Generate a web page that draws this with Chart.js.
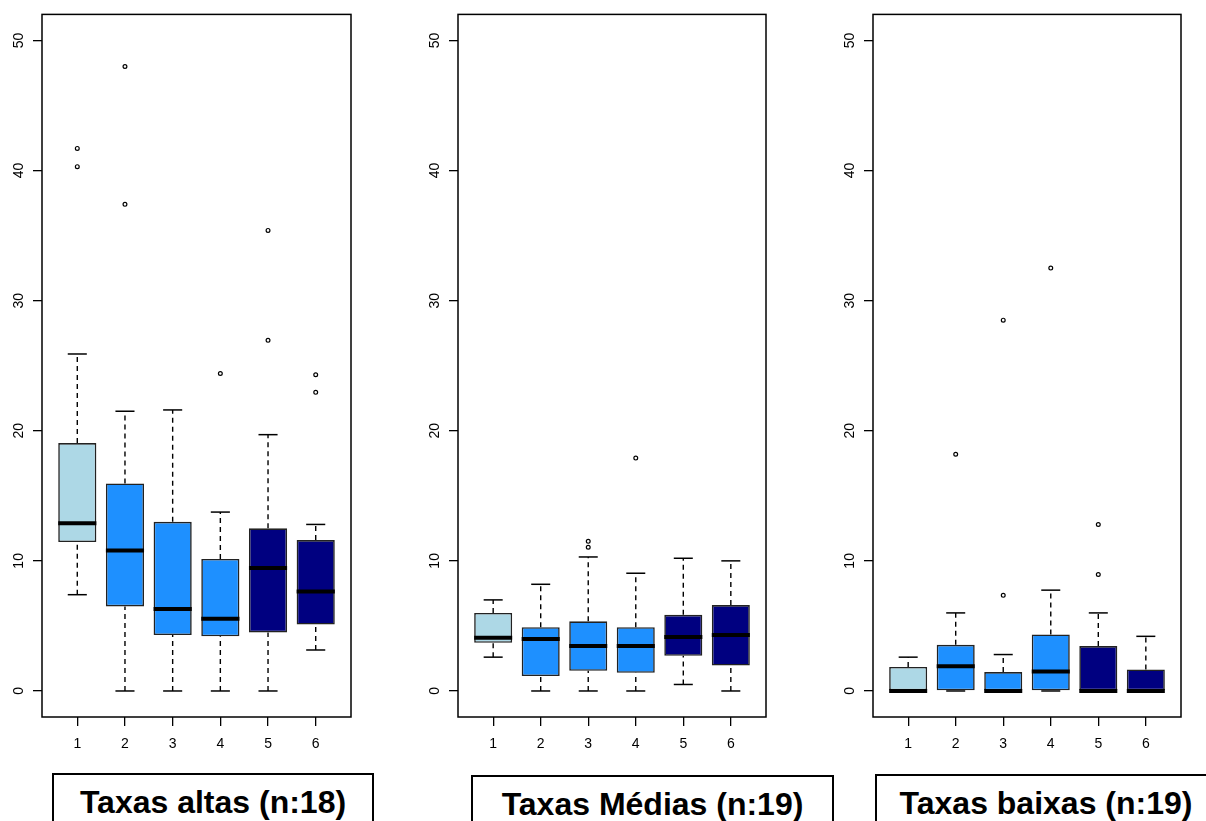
<!DOCTYPE html>
<html lang="pt">
<head>
    <meta charset="UTF-8">
    <title>Taxas altas, médias e baixas</title>
    <script src="https://cdn.jsdelivr.net/npm/chart.js"></script>
    <style>
        body {
            margin: 0;
            width: 1206px;
            height: 821px;
            overflow: hidden;
            position: relative;
            background: #fff;
            font-family: 'Liberation Sans', Arial, sans-serif;
        }
        canvas {
            position: absolute;
            top: 0;
        }
        .titulo {
            position: absolute;
            box-sizing: border-box;
            height: 80px;
            border: 2px solid #000;
            padding-top: 11px;
            text-align: center;
            font-weight: bold;
            font-size: 32px;
            line-height: 32px;
            color: #000;
            white-space: nowrap;
        }
    </style>
</head>
<body>
    <canvas id="altas" width="360" height="770" style="left:0px"></canvas>
    <canvas id="medias" width="359" height="770" style="left:416px"></canvas>
    <canvas id="baixas" width="359" height="770" style="left:831px"></canvas>

    <div class="titulo" style="left:52px;top:773px;width:322px;">Taxas altas (n:18)</div>
    <div class="titulo" style="left:471px;top:775px;width:363px;">Taxas Médias (n:19)</div>
    <div class="titulo" style="left:875px;top:774px;width:342px;">Taxas baixas (n:19)</div>

    <script>
        // categorias e cores das caixas
        const categorias = [1, 2, 3, 4, 5, 6];
        const corCaixa = ['#ADD8E6', '#1E90FF', '#1E90FF', '#1E90FF', '#000080', '#000080'];
        const marcasY = [0, 10, 20, 30, 40, 50];

        // Taxas altas (n:18)
        const altasMin = [7.4, 0, 0, 0, 0, 3.15];
        const altasQ1 = [11.45, 6.5, 4.3, 4.2, 4.5, 5.1];
        const altasMediana = [12.9, 10.8, 6.3, 5.55, 9.45, 7.65];
        const altasQ3 = [19.05, 15.95, 13.0, 10.15, 12.5, 11.6];
        const altasMax = [25.9, 21.5, 21.6, 13.75, 19.7, 12.8];
        const altasOutliers = [[41.7, 40.3], [48.0, 37.4], [], [24.4], [35.4, 26.95], [24.3, 22.95]];

        // Taxas Médias (n:19)
        const mediasMin = [2.6, 0, 0, 0, 0.5, 0];
        const mediasQ1 = [3.7, 1.15, 1.55, 1.4, 2.7, 1.95];
        const mediasMediana = [4.1, 4.0, 3.45, 3.45, 4.15, 4.3];
        const mediasQ3 = [6.0, 4.9, 5.35, 4.9, 5.85, 6.6];
        const mediasMax = [7.0, 8.2, 10.3, 9.05, 10.2, 10.0];
        const mediasOutliers = [[], [], [11.5, 11.05], [17.9], [], []];

        // Taxas baixas (n:19)
        const baixasMin = [0, 0, 0, 0, 0, 0];
        const baixasQ1 = [0, 0, 0, 0, 0, 0];
        const baixasMediana = [0, 1.9, 0, 1.5, 0, 0];
        const baixasQ3 = [1.85, 3.55, 1.45, 4.35, 3.45, 1.65];
        const baixasMax = [2.6, 6.0, 2.8, 7.75, 6.0, 4.2];
        const baixasOutliers = [[], [18.2], [7.35, 28.5], [32.5], [12.8, 8.95], []];

        // desenha bigodes, hastes, medianas e a moldura no estilo do R
        function pluginBoxplot(minimos, q1, medianas, q3, maximos) {
            return {
                id: 'boxplotR',
                beforeDatasetsDraw(chart) {
                    const { ctx, scales: { x, y } } = chart;
                    ctx.save();
                    ctx.strokeStyle = '#000';
                    ctx.lineWidth = 1.4;
                    ctx.setLineDash([5, 4]);
                    categorias.forEach((c, i) => {
                        const px = x.getPixelForValue(c);
                        ctx.beginPath();
                        ctx.moveTo(px, y.getPixelForValue(minimos[i]));
                        ctx.lineTo(px, y.getPixelForValue(q1[i]));
                        ctx.moveTo(px, y.getPixelForValue(q3[i]));
                        ctx.lineTo(px, y.getPixelForValue(maximos[i]));
                        ctx.stroke();
                    });
                    ctx.restore();
                },
                afterDatasetsDraw(chart) {
                    const { ctx, scales: { x, y } } = chart;
                    ctx.save();
                    ctx.strokeStyle = '#000';
                    ctx.lineCap = 'butt';
                    categorias.forEach((c, i) => {
                        const px = x.getPixelForValue(c);
                        const meiaHaste = x.getPixelForValue(c + 0.2) - px;
                        const meiaCaixa = x.getPixelForValue(c + 0.4) - px;
                        // hastes
                        ctx.lineWidth = 1.5;
                        [minimos[i], maximos[i]].forEach(v => {
                            const py = y.getPixelForValue(v);
                            ctx.beginPath();
                            ctx.moveTo(px - meiaHaste, py);
                            ctx.lineTo(px + meiaHaste, py);
                            ctx.stroke();
                        });
                        // mediana
                        ctx.lineWidth = 4;
                        const pm = y.getPixelForValue(medianas[i]);
                        ctx.beginPath();
                        ctx.moveTo(px - meiaCaixa, pm);
                        ctx.lineTo(px + meiaCaixa, pm);
                        ctx.stroke();
                    });
                    ctx.restore();
                },
                afterDraw(chart) {
                    const { ctx, chartArea: a } = chart;
                    ctx.save();
                    ctx.strokeStyle = '#000';
                    ctx.lineWidth = 1.5;
                    ctx.strokeRect(a.left, a.top, a.right - a.left, a.bottom - a.top);
                    ctx.restore();
                }
            };
        }

        function desenharPainel(id, minimos, q1, medianas, q3, maximos, outliers) {
            const pontos = [];
            outliers.forEach((lista, i) => lista.forEach(v => pontos.push({ x: categorias[i], y: v })));

            const fonteEixo = { family: "'Liberation Sans', Arial, sans-serif", size: 14 };

            new Chart(document.getElementById(id), {
                type: 'bar',
                data: {
                    datasets: [{
                        type: 'bar',
                        data: categorias.map((c, i) => ({ x: c, y: [q1[i], q3[i]] })),
                        backgroundColor: corCaixa,
                        borderColor: '#222',
                        borderWidth: 1.6,
                        borderSkipped: false,
                        barPercentage: 0.8,
                        categoryPercentage: 1,
                        grouped: false
                    }, {
                        type: 'scatter',
                        data: pontos,
                        pointRadius: 1.9,
                        pointBorderWidth: 1.2,
                        borderColor: '#000',
                        backgroundColor: '#fff'
                    }]
                },
                options: {
                    responsive: false,
                    animation: false,
                    events: [],
                    layout: { padding: { top: 14, right: 9, left: 0, bottom: 0 } },
                    plugins: { legend: { display: false }, tooltip: { enabled: false } },
                    scales: {
                        x: {
                            type: 'linear',
                            min: 0.26,
                            max: 6.74,
                            offset: false,
                            afterFit(s) { s.height = 53; },
                            afterBuildTicks(s) { s.ticks = categorias.map(v => ({ value: v })); },
                            border: { display: false },
                            grid: { offset: false, drawOnChartArea: false, color: '#000', tickColor: '#000', tickLength: 9, lineWidth: 1.3 },
                            ticks: { color: '#000', font: fonteEixo, padding: 10, maxRotation: 0, autoSkip: false }
                        },
                        y: {
                            type: 'linear',
                            min: -2,
                            max: 52,
                            afterFit(s) { s.width = 42; },
                            afterBuildTicks(s) { s.ticks = marcasY.map(v => ({ value: v })); },
                            border: { display: false },
                            grid: { drawOnChartArea: false, color: '#000', tickColor: '#000', tickLength: 9, lineWidth: 1.3 },
                            ticks: { color: '#000', font: fonteEixo, padding: 6, minRotation: 90, maxRotation: 90, crossAlign: 'center', autoSkip: false }
                        }
                    }
                },
                plugins: [pluginBoxplot(minimos, q1, medianas, q3, maximos)]
            });
        }

        desenharPainel('altas', altasMin, altasQ1, altasMediana, altasQ3, altasMax, altasOutliers);
        desenharPainel('medias', mediasMin, mediasQ1, mediasMediana, mediasQ3, mediasMax, mediasOutliers);
        desenharPainel('baixas', baixasMin, baixasQ1, baixasMediana, baixasQ3, baixasMax, baixasOutliers);
    </script>
</body>
</html>
